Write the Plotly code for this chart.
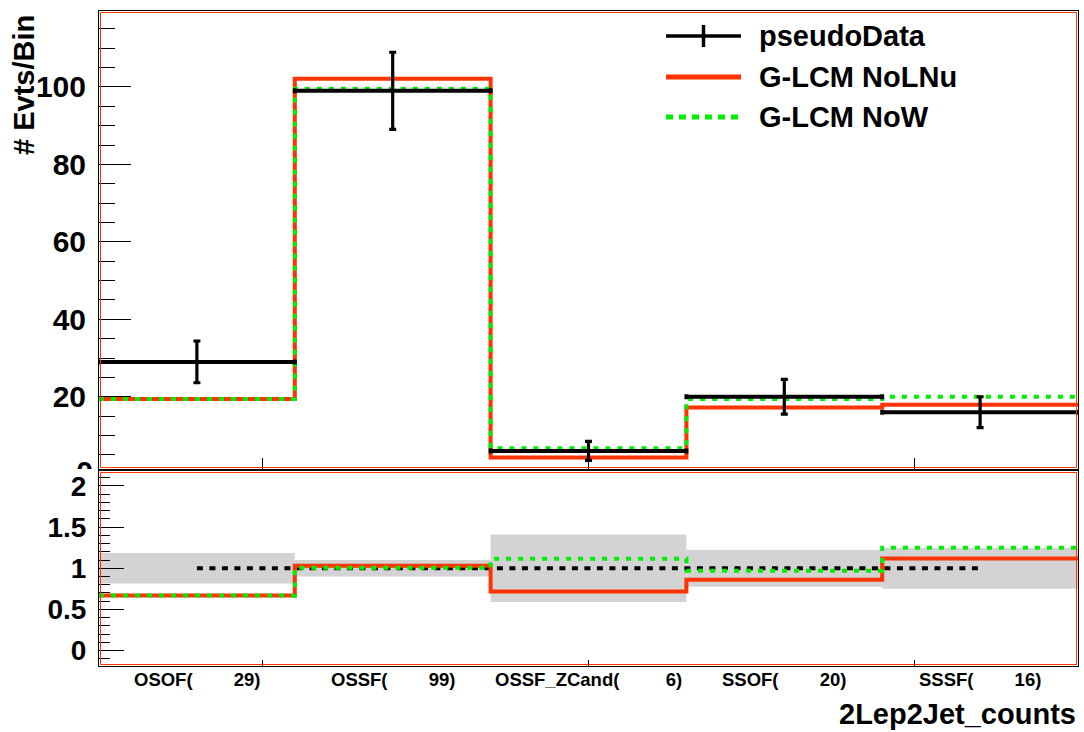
import numpy as np
import plotly.graph_objects as go

# ---- data -------------------------------------------------------------
categories = ["OSOF", "OSSF", "OSSF_ZCand", "SSOF", "SSSF"]
pseudo_data = [29, 99, 6, 20, 16]
glcm_nolnu = [19.4, 102.1, 4.3, 17.2, 17.9]
glcm_now = [19.4, 99.5, 6.7, 19.4, 20.0]

series_names = ["pseudoData", "G-LCM NoLNu", "G-LCM NoW"]
x_title = "2Lep2Jet_counts"
y_title = "# Evts/Bin"

# ---- styling ----------------------------------------------------------
W, H = 1084, 732
RED = "#ff3300"
GREEN = "#00ee00"
GREY = "#d3d3d3"
FONT = "Liberation Sans"


def px(p):
    return p / W


def py(p):
    return 1 - p / H


def bold(size, color="black"):
    return dict(family=FONT, size=size, color=color, weight="bold")


n_bins = len(categories)
edges = np.arange(n_bins + 1)
centers = edges[:-1] + 0.5
data = np.array(pseudo_data, dtype=float)
nolnu = np.array(glcm_nolnu)
now = np.array(glcm_now)


def steps(vals):
    return list(edges), list(vals) + [vals[-1]]


labels = [f"{c}(" + "\u00a0" * (10 - len(str(n))) + f"{n})"
          for c, n in zip(categories, pseudo_data)]

fig = go.Figure()

# ---- upper panel: distributions ---------------------------------------
sx, sy = steps(nolnu)
fig.add_trace(go.Scatter(x=sx, y=sy, mode="lines", line_shape="hv",
                         line=dict(color=RED, width=4), xaxis="x", yaxis="y"))
sx, sy = steps(now)
fig.add_trace(go.Scatter(x=sx, y=sy, mode="lines", line_shape="hv",
                         line=dict(color=GREEN, width=4, dash="5px,7px"),
                         xaxis="x", yaxis="y"))
fig.add_trace(go.Scatter(
    x=centers, y=data, mode="markers",
    marker=dict(color="black", size=2),
    error_x=dict(type="constant", value=0.5, color="black", thickness=4, width=2.5),
    error_y=dict(type="data", array=np.sqrt(data), color="black", thickness=3.2, width=3.5),
    xaxis="x", yaxis="y"))

# ---- lower panel: ratio to pseudo data --------------------------------
rel_err = 1 / np.sqrt(data)
fig.add_trace(go.Bar(x=centers, y=2 * rel_err, base=1 - rel_err, width=1,
                     marker=dict(color=GREY, line=dict(width=0)),
                     xaxis="x2", yaxis="y2"))
fig.add_trace(go.Scatter(x=[centers[0], centers[-1]], y=[1, 1], mode="lines",
                         line=dict(color="black", width=4, dash="6px,6.5px"),
                         xaxis="x2", yaxis="y2"))
sx, sy = steps(nolnu / data)
fig.add_trace(go.Scatter(x=sx, y=sy, mode="lines", line_shape="hv",
                         line=dict(color=RED, width=4), xaxis="x2", yaxis="y2"))
sx, sy = steps(now / data)
fig.add_trace(go.Scatter(x=sx, y=sy, mode="lines", line_shape="hv",
                         line=dict(color=GREEN, width=4, dash="5px,7px"),
                         xaxis="x2", yaxis="y2"))

# "0" label of the upper axis, partly hidden behind the lower pad
y_up_range = [1.34, 119.6]
fig.add_trace(go.Scatter(x=[1], y=[0], mode="text", text=["0"],
                         textposition="middle left", textfont=bold(30),
                         cliponaxis=True, xaxis="x4", yaxis="y4"))

X_DOM = [px(99), px(1078)]
UP_DOM = [py(469), py(11)]
LO_DOM = [py(666), py(471)]

frame = dict(showline=True, linecolor="black", linewidth=1, mirror=True,
             showgrid=False, zeroline=False)
root_ticks = [n_bins / 6, n_bins / 2, 5 * n_bins / 6]

fig.update_layout(
    width=W, height=H,
    margin=dict(l=0, r=0, t=0, b=0),
    paper_bgcolor="white", plot_bgcolor="white",
    showlegend=False, barmode="overlay",
    xaxis=dict(domain=X_DOM, range=[0, n_bins], anchor="y",
               tickvals=root_ticks,
               ticks="inside", ticklen=11, tickcolor="black", tickwidth=1.2,
               showticklabels=False, **frame),
    yaxis=dict(domain=UP_DOM, range=y_up_range, anchor="x",
               tick0=0, dtick=20, ticks="inside", ticklen=32, tickwidth=1.2,
               tickcolor="black", tickfont=bold(30), ticklabelstandoff=6,
               minor=dict(dtick=5, ticks="inside", ticklen=16, tickcolor="black",
                          tickwidth=1.2),
               **frame),
    xaxis2=dict(domain=X_DOM, range=[0, n_bins], anchor="y2",
                tickvals=root_ticks,
                ticks="inside", ticklen=6, tickcolor="black", tickwidth=1.2,
                showticklabels=False, **frame),
    yaxis2=dict(domain=LO_DOM, range=[-0.186, 2.18], anchor="x2",
                tick0=0, dtick=0.5, ticks="inside", ticklen=25, tickwidth=1.2,
                tickcolor="black", tickfont=bold(28), ticklabelstandoff=6,
                minor=dict(dtick=0.1, ticks="inside", ticklen=11,
                           tickcolor="black", tickwidth=1.2),
                **frame),
    xaxis4=dict(domain=[px(40), px(93)], range=[0, 1], anchor="y4",
                visible=False),
    yaxis4=dict(domain=UP_DOM, range=y_up_range, anchor="x4", visible=False),
)

# inner red frame lines of both pads
shapes = []
for (top, bottom) in [(11, 469), (471, 666)]:
    shapes.append(dict(type="rect", xref="paper", yref="paper",
                       x0=px(100.5), x1=px(1076.5), y0=py(bottom - 1.5), y1=py(top + 1.5),
                       line=dict(color=RED, width=1), layer="above"))

# legend
leg_x0, leg_x1, leg_text_x = 666, 741, 757
leg_rows = [36, 77, 117]
shapes.append(dict(type="line", xref="paper", yref="paper",
                   x0=px(leg_x0), x1=px(leg_x1), y0=py(leg_rows[0]), y1=py(leg_rows[0]),
                   line=dict(color="black", width=3.5)))
shapes.append(dict(type="line", xref="paper", yref="paper",
                   x0=px((leg_x0 + leg_x1) / 2), x1=px((leg_x0 + leg_x1) / 2),
                   y0=py(leg_rows[0] - 11), y1=py(leg_rows[0] + 11),
                   line=dict(color="black", width=3.5)))
shapes.append(dict(type="line", xref="paper", yref="paper",
                   x0=px(leg_x0), x1=px(leg_x1), y0=py(leg_rows[1]), y1=py(leg_rows[1]),
                   line=dict(color=RED, width=5)))
shapes.append(dict(type="line", xref="paper", yref="paper",
                   x0=px(leg_x0), x1=px(leg_x1), y0=py(leg_rows[2]), y1=py(leg_rows[2]),
                   line=dict(color=GREEN, width=5, dash="7px,6px")))

annotations = []
for name, row in zip(series_names, leg_rows):
    annotations.append(dict(text=name, x=px(leg_text_x), y=py(row), xref="paper",
                            yref="paper", xanchor="left", yanchor="middle",
                            showarrow=False, font=bold(29)))

# bin labels under the ratio pad
for c, lab in zip(centers, labels):
    annotations.append(dict(text=lab, x=c, y=py(679), xref="x2", yref="paper",
                            xanchor="center", yanchor="middle",
                            showarrow=False, font=bold(18.5)))

annotations.append(dict(text=x_title, x=px(1078), y=py(714), xref="paper",
                        yref="paper", xanchor="right", yanchor="middle",
                        showarrow=False, font=bold(29)))
annotations.append(dict(text=y_title, x=px(24), y=py(13), xref="paper",
                        yref="paper", xanchor="center", yanchor="top",
                        textangle=-90, showarrow=False, font=bold(29)))

fig.update_layout(shapes=shapes, annotations=annotations)

fig.write_html("out.html")
